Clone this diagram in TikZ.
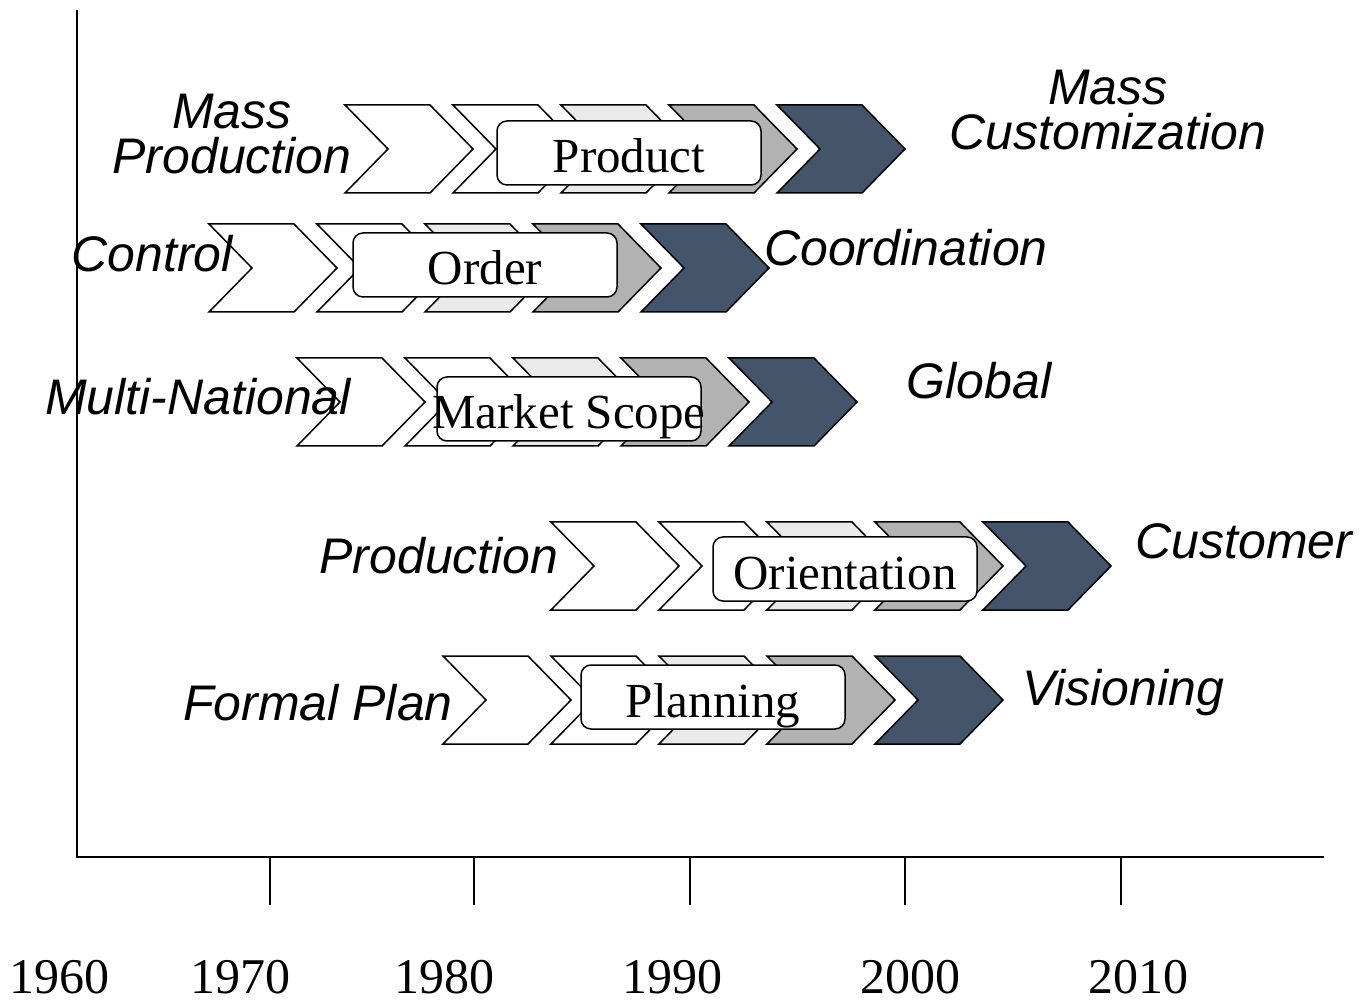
\documentclass[tikz,border=0pt]{standalone}
\usepackage{fontspec}
\setmainfont{Liberation Serif}
\newfontfamily\lsans{Liberation Sans}
\definecolor{cdark}{HTML}{44546A}
\definecolor{clight}{HTML}{EAEAEA}
\definecolor{cmid}{HTML}{B2B2B2}
\newcommand\chevron[3]{%
  \path[chev,fill=#3] (#1,#2) ++(0,-44) -- ++(85,0) -- ++(43,44) -- ++(-43,44) -- ++(-85,0) -- ++(43,-44) -- cycle;}
\newcommand\chevrow[2]{%
  \foreach \i/\c in {0/white,1/white,2/clight,3/cmid,4/cdark}{\chevron{#1+108*\i}{#2}{\c}}}
\begin{document}
\begin{tikzpicture}[x=0.5pt,y=-0.5pt,
  chev/.style={draw=black,line width=0.75pt,line join=miter},
  tagbox/.style={draw=black,fill=white,rounded corners=5pt,line width=0.75pt,
    minimum width=132pt,minimum height=32pt,inner sep=0pt,
    text height=20pt,text depth=0pt,font=\fontsize{24.5}{28}\selectfont},
  lab/.style={font=\lsans\itshape\fontsize{25}{22.5}\selectfont,inner sep=0pt,anchor=base},
  lab2/.style={font=\lsans\itshape\fontsize{25}{22.5}\selectfont,inner sep=0pt,align=center},
  yr/.style={font=\fontsize{25}{28}\selectfont,inner sep=0pt,anchor=base},
  axis/.style={line width=1pt},
  tick/.style={line width=0.6pt}]
\useasboundingbox (0,0) rectangle (1362,1000);
\fill[white] (0,0) rectangle (1362,1000);

% axes
\coordinate (ytop) at (77,10);
\coordinate (orig) at (77,857);
\coordinate (xend) at (1324,857);
\draw[axis] (ytop) -- (orig) -- (xend);
\foreach \x in {270,474,690,905,1121} \draw[tick] (\x,857) -- (\x,905);

% chevron rows
\chevrow{345}{149}
\chevrow{209}{268}
\chevrow{297}{402}
\chevrow{551}{566}
\chevrow{443}{700}

% boxes
\node[tagbox] (product) at (629,153) {Product};
\node[tagbox] (order) at (485,265) {Order};
\node[tagbox] (market) at (569,409) {\makebox[0pt]{Market Scope}};
\node[tagbox] (orient) at (845,569) {Orientation};
\node[tagbox] (plan) at (713,697) {Planning};

% labels
\node[lab2] (massprod) at (232,134.5) {Mass\\Production};
\node[lab2] (masscust) at (1108,110) {Mass\\Customization};
\node[lab] (control) at (152,272) {Control};
\node[lab] (coord) at (906,266) {Coordination};
\node[lab] (multi) at (198,415) {Multi-National};
\node[lab] (global) at (979,399) {Global};
\node[lab] (prodn) at (439,574) {Production};
\node[lab] (cust) at (1244,559) {Customer};
\node[lab] (formal) at (318,720) {Formal Plan};
\node[lab] (vision) at (1123,705) {Visioning};

% years
\node[yr] (y60) at (60,993) {1960};
\node[yr] (y70) at (240,993) {1970};
\node[yr] (y80) at (444,993) {1980};
\node[yr] (y90) at (672,993) {1990};
\node[yr] (y00) at (910,993) {2000};
\node[yr] (y10) at (1138,993) {2010};
\end{tikzpicture}
\end{document}
